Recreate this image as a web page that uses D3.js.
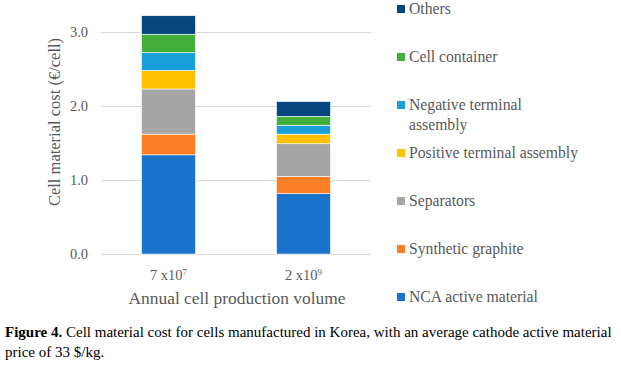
<!DOCTYPE html>
<html lang="en">
<head>
<meta charset="UTF-8">
<title>Cell material cost</title>
<script src="https://d3js.org/d3.v7.min.js"></script>
<style>
  body { margin: 0; background: #fff; }
  svg text { font-family: "Liberation Serif", "DejaVu Serif", serif; }
</style>
</head>
<body>
<svg id="chart" width="621" height="367" font-family="Liberation Serif, serif"></svg>
<script>
// categories and series (stack order bottom -> top)
const volumes = [["7 x10", "7"], ["2 x10", "9"]];
const seriesNames = ["NCA active material", "Synthetic graphite", "Separators",
  "Positive terminal assembly", "Negative terminal assembly", "Cell container", "Others"];
const ncaActive = [1.34, 0.815];
const graphite = [0.28, 0.235];
const separators = [0.61, 0.44];
const positiveTerminal = [0.25, 0.13];
const negativeTerminal = [0.24, 0.12];
const cellContainer = [0.25, 0.12];
const others = [0.25, 0.20];
const yTicks = [0, 1, 2, 3];
const colors = ["#1a73ca", "#fc7e25", "#a5a5a5", "#ffc000", "#1b9fd8", "#43ae3a", "#06467f"];

const seriesValues = [ncaActive, graphite, separators, positiveTerminal, negativeTerminal, cellContainer, others];
const rows = volumes.map((v, i) => {
  const r = { idx: i };
  seriesNames.forEach((s, j) => r[s] = seriesValues[j][i]);
  return r;
});

const svg = d3.select("#chart");
const plot = { left: 101, right: 371, bottom: 254 };

const x = d3.scaleBand().domain(d3.range(volumes.length)).range([plot.left, plot.right])
  .paddingInner(0.6).paddingOuter(0.3);
const y = d3.scaleLinear().domain([0, 3]).range([plot.bottom, plot.bottom - 3 * 74]);

// gridlines
svg.append("g").selectAll("line").data(yTicks).join("line")
  .attr("x1", plot.left).attr("x2", plot.right)
  .attr("y1", d => y(d) + 0.5).attr("y2", d => y(d) + 0.5)
  .attr("stroke", "#d9d9d9").attr("stroke-width", 1);

// tick labels
svg.append("g").selectAll("text").data(yTicks).join("text")
  .attr("x", 88).attr("y", d => y(d) + 5)
  .attr("text-anchor", "end").attr("fill", "#595959").attr("font-size", 14.5)
  .text(d => d.toFixed(1));

// stacked bars
const stacked = d3.stack().keys(seriesNames)(rows);
svg.append("g").selectAll("g").data(stacked).join("g")
  .attr("fill", (d, i) => colors[i])
  .selectAll("rect").data(d => d).join("rect")
  .attr("x", d => x(d.data.idx))
  .attr("width", x.bandwidth())
  .attr("y", d => y(d[1]))
  .attr("height", d => y(d[0]) - y(d[1]))
  .attr("stroke", "#fff").attr("stroke-width", 0.6);

// category labels with superscript
const xl = svg.append("g").selectAll("text").data(volumes).join("text")
  .attr("x", (d, i) => x(i) + x.bandwidth() / 2).attr("y", 280)
  .attr("text-anchor", "middle").attr("fill", "#595959").attr("font-size", 14.5);
xl.append("tspan").text(d => d[0]);
xl.append("tspan").attr("dy", -5).attr("font-size", 9).text(d => d[1]);

// axis titles
svg.append("text").attr("x", 237).attr("y", 304)
  .attr("text-anchor", "middle").attr("fill", "#595959").attr("font-size", 17.4)
  .text("Annual cell production volume");
svg.append("text").attr("transform", "translate(60,122) rotate(-90)")
  .attr("text-anchor", "middle").attr("fill", "#595959").attr("font-size", 16.5)
  .text("Cell material cost (€/cell)");

// legend (top -> bottom: Others ... NCA)
const legendY = [9, 57, 105, 153, 201, 249, 297];
const legendItems = seriesNames.map((s, i) => ({ name: s, color: colors[i] })).reverse();
const lg = svg.append("g").selectAll("g").data(legendItems).join("g")
  .attr("transform", (d, i) => `translate(397,${legendY[i]})`);
lg.append("rect").attr("x", 0).attr("y", -4).attr("width", 8).attr("height", 8).attr("fill", d => d.color);
lg.append("text").attr("x", 12).attr("y", 5).attr("fill", "#595959").attr("font-size", 15.7)
  .each(function (d) {
    const t = d3.select(this);
    if (d.name === "Negative terminal assembly") {
      t.append("tspan").attr("x", 12).text("Negative terminal");
      t.append("tspan").attr("x", 12).attr("dy", 20).text("assembly");
    } else {
      t.text(d.name);
    }
  });

// caption
const cap = svg.append("text").attr("x", 5).attr("y", 337).attr("fill", "#000").attr("font-size", 15);
cap.append("tspan").attr("font-weight", "bold").text("Figure 4.");
cap.append("tspan").text(" Cell material cost for cells manufactured in Korea, with an average cathode active material");
svg.append("text").attr("x", 5).attr("y", 357).attr("fill", "#000").attr("font-size", 15)
  .text("price of 33 $/kg.");
</script>
</body>
</html>
